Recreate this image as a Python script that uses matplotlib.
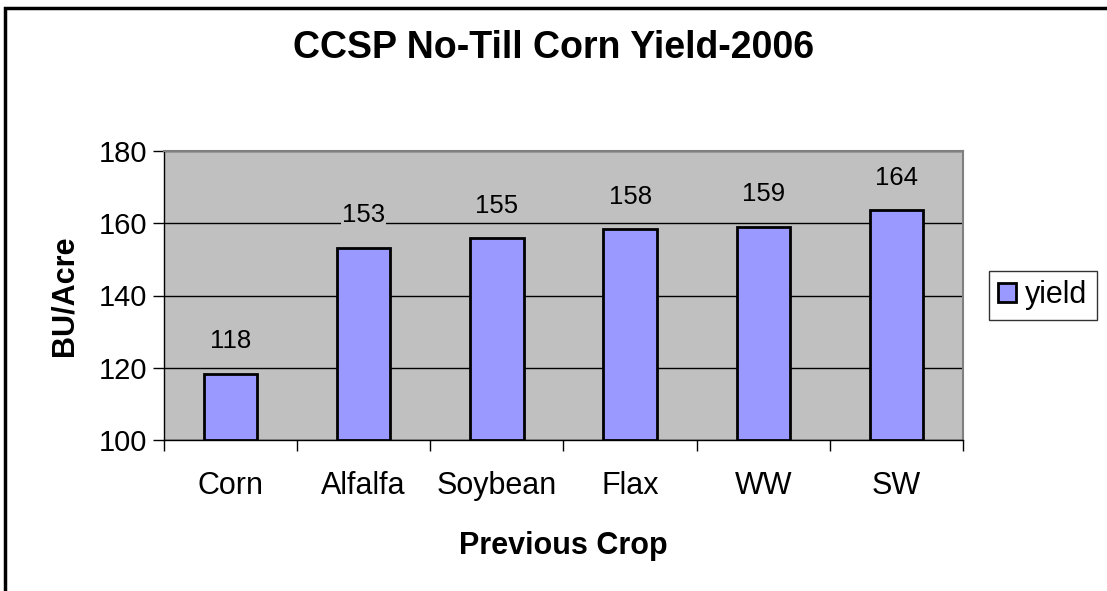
import matplotlib.pyplot as plt
from matplotlib.patches import Rectangle

# data
crops = ["Corn", "Alfalfa", "Soybean", "Flax", "WW", "SW"]
yields = [118.3, 153.2, 155.8, 158.4, 159.1, 163.6]
labels = ["118", "153", "155", "158", "159", "164"]
yticks = [100, 120, 140, 160, 180]

plt.rcParams['font.family'] = ['Liberation Sans', 'DejaVu Sans']

fig = plt.figure(figsize=(11.07, 5.91), dpi=100)
ax = fig.add_axes([0.148, 0.2555, 0.722, 0.489])
ax.set_facecolor("#c0c0c0")

x = range(len(crops))
ax.bar(x, [v - 100 for v in yields], bottom=100, width=0.4,
       color="#9999ff", edgecolor="black", linewidth=2, zorder=3,
       label="yield")

# data labels, with a grey box so the gridline breaks behind them
for i, v in enumerate(yields):
    ax.text(i, v + 9, labels[i], ha="center", va="center", fontsize=18.5,
            zorder=4, bbox=dict(facecolor="#c0c0c0", edgecolor="none", pad=1))

ax.set_xlim(-0.5, len(crops) - 0.5)
ax.set_ylim(100, 180)
ax.set_yticks(yticks)
ax.yaxis.grid(True, color="black", linewidth=1, zorder=0)
ax.set_axisbelow(True)
ax.set_xticks(x)
ax.set_xticklabels(crops, fontsize=22)
ax.set_xticks([i - 0.5 for i in range(len(crops) + 1)], minor=True)
ax.tick_params(axis="x", which="major", length=0, pad=22)
ax.tick_params(axis="x", which="minor", length=8, width=1)
ax.tick_params(axis="y", labelsize=21, length=8, width=1, pad=4)

for s in ["top", "right"]:
    ax.spines[s].set_color("#808080")
    ax.spines[s].set_linewidth(1.5)
for s in ["left", "bottom"]:
    ax.spines[s].set_color("black")
    ax.spines[s].set_linewidth(1)

ax.set_ylabel("BU/Acre", fontsize=22, fontweight="bold", labelpad=14)
ax.set_xlabel("Previous Crop", fontsize=22, fontweight="bold", labelpad=22)

fig.text(0.5, 0.918, "CCSP No-Till Corn Yield-2006", ha="center", va="center",
         fontsize=27, fontweight="bold")

leg = ax.legend(loc="center left", bbox_to_anchor=(1.032, 0.5), fontsize=22,
                frameon=True, fancybox=False, edgecolor="black",
                handlelength=0.6, handleheight=0.6, handletextpad=0.3,
                borderpad=0.3, borderaxespad=0)
leg.get_frame().set_linewidth(1)

# outer chart border (bottom edge runs off the image)
fig.patches.append(Rectangle((0.0045, -0.02), 1.2, 1.006, transform=fig.transFigure,
                             fill=False, edgecolor="black", linewidth=2.5))

fig.savefig("out.png", dpi=100)
